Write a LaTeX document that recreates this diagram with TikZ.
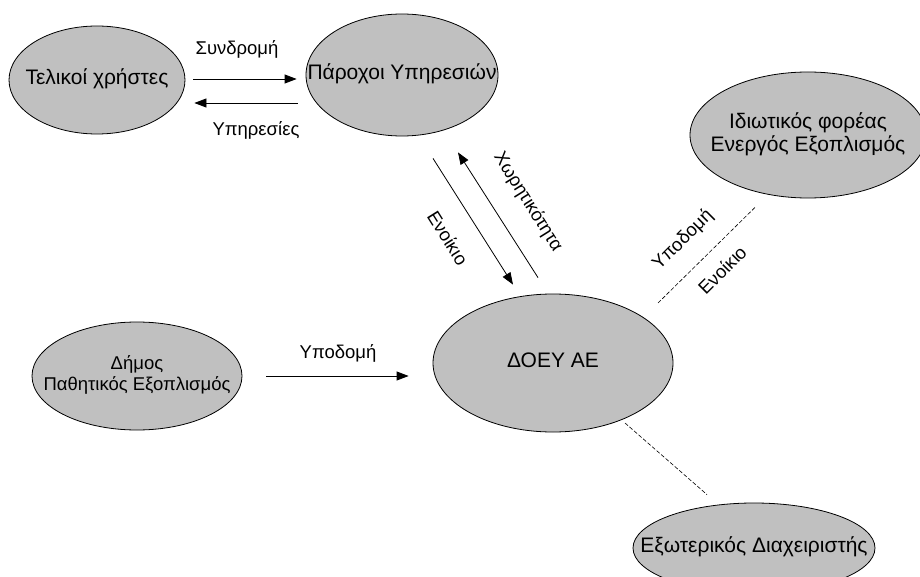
\documentclass[tikz,border=0pt]{standalone}
\usepackage{fontspec}
\setmainfont{Liberation Sans}
\usetikzlibrary{shapes.geometric,arrows.meta}
\definecolor{entgray}{RGB}{192,192,192}
\newcommand{\elab}[1]{\makebox[0pt]{\begin{tabular}{@{}c@{}}#1\end{tabular}}}
\begin{document}
\begin{tikzpicture}[x=1pt,y=-1pt,
  ent/.style={ellipse, draw=black, line width=0.8pt, fill=entgray, inner sep=0pt, font=\fontsize{21}{23}\selectfont},
  arr/.style={line width=0.8pt, -{Triangle[length=12pt,width=9pt]}},
  dline/.style={line width=0.6pt, dash pattern=on 4pt off 2pt},
  lab/.style={font=\fontsize{18.5}{21}\selectfont, inner sep=0pt}]
\useasboundingbox (0,0) rectangle (920,577);
\node[ent, minimum width=176, minimum height=108] (tel) at (97,80) {\elab{Τελικοί χρήστες}};
\node[ent, minimum width=192, minimum height=122] (par) at (402,75) {\elab{Πάροχοι Υπηρεσιών}};
\node[ent, minimum width=236, minimum height=126] (idi) at (808,135) {\elab{Ιδιωτικός φορέας\\Ενεργός Εξοπλισμός}};
\node[ent, minimum width=240, minimum height=138] (doey) at (553,363) {\elab{ΔΟΕΥ ΑΕ}};
\node[ent, minimum width=210, minimum height=108, font=\fontsize{18.5}{21}\selectfont] (dim) at (137,376) {\elab{Δήμος\\Παθητικός Εξοπλισμός}};
\node[ent, minimum width=242, minimum height=90] (ext) at (754,548) {\elab{Εξωτερικός Διαχειριστής}};

\draw[arr] ([shift={(8,-1)}]tel.east) -- ([shift={(-9,4)}]par.west);
\draw[arr] ([shift={(-8,28)}]par.west) -- ([shift={(9,23)}]tel.east);
\node[lab] (l1) at (237,49) {Συνδρομή};
\node[lab] (l2) at (256,130) {Υπηρεσίες};

\draw[arr] ([shift={(31,22)}]par.south) -- ([shift={(-40,-9)}]doey.north);
\draw[arr] ([shift={(-15,-16)}]doey.north) -- ([shift={(56,16)}]par.south);
\node[lab, rotate=-58] (l3) at (448,238) {Ενοίκιο};
\node[lab, rotate=-58] (l4) at (528,202) {Χωρητικότητα};

\draw[arr] ([xshift=24]dim.east) -- ([shift={(-24,13)}]doey.west);
\node[lab] (l5) at (338,353) {Υποδομή};

\draw[dline] ([shift={(105,-60)}]doey.center) -- ([shift={(-53,9)}]idi.south);
\node[lab, rotate=45] (l6) at (683,240) {Υποδομή};
\node[lab, rotate=45] (l7) at (722,270) {Ενοίκιο};
\draw[dline] ([shift={(72,60)}]doey.center) -- ([shift={(-47,-8)}]ext.north);
\end{tikzpicture}
\end{document}
